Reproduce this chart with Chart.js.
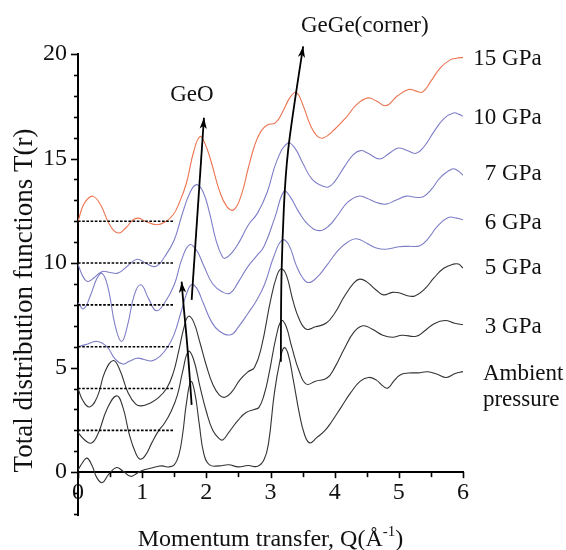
<!DOCTYPE html>
<html>
<head>
<meta charset="utf-8">
<script src="https://cdn.jsdelivr.net/npm/chart.js@4.4.0/dist/chart.umd.min.js"></script>
<style>
html,body{margin:0;padding:0;background:#fff;}
#wrap{width:566px;height:550px;position:relative;}
</style>
</head>
<body>
<div id="wrap"><canvas id="c" width="566" height="550"></canvas></div>
<script>
// ---------- data ----------
const SERIES_NAMES = ['Ambient pressure', '3 GPa', '5 GPa', '6 GPa', '7 GPa', '10 GPa', '15 GPa'];

const Q_AMB = [0,0.07,0.14,0.22,0.3,0.38,0.48,0.6,0.7,0.82,0.92,1.0,1.15,1.3,1.42,1.5,1.57,1.63,1.69,1.76,1.82,1.89,1.96,2.05,2.2,2.35,2.5,2.65,2.8,2.9,2.97,3.06,3.15,3.21,3.27,3.35,3.45,3.53,3.61,3.72,3.85,3.95,4.1,4.25,4.4,4.53,4.65,4.76,4.83,4.92,5.02,5.15,5.3,5.45,5.6,5.74,5.88,6.0];
const T_AMB = [0.1,0.45,0.67,0.3,-0.3,-0.5,-0.1,0.22,0.05,-0.2,-0.05,0.08,0.2,0.3,0.25,0.35,0.8,1.8,3.3,4.33,3.8,2.3,0.9,0.35,0.3,0.35,0.25,0.32,0.28,0.6,1.4,3.78,5.37,5.95,5.7,4.5,2.8,1.8,1.4,1.65,2.0,2.4,3.1,3.8,4.35,4.53,4.4,4.1,4.02,4.35,4.65,4.74,4.75,4.8,4.68,4.53,4.72,4.81];

const Q_3 = [0,0.1,0.21,0.32,0.45,0.6,0.7,0.8,0.9,0.97,1.05,1.15,1.25,1.35,1.45,1.55,1.63,1.72,1.8,1.9,2.0,2.1,2.2,2.26,2.35,2.5,2.62,2.75,2.82,2.9,2.97,3.09,3.17,3.24,3.33,3.45,3.56,3.7,3.88,4.0,4.15,4.3,4.44,4.58,4.75,4.9,5.05,5.27,5.4,5.55,5.72,5.87,6.0];
const T_3 = [1.9,1.55,1.39,1.9,3.0,3.65,3.1,1.8,0.9,0.62,0.8,1.4,1.95,2.35,2.9,3.7,4.8,5.77,5.4,4.1,2.9,2.0,1.6,1.55,1.9,2.5,2.85,3.0,3.1,3.7,4.6,6.5,7.24,7.0,6.0,4.8,4.21,4.35,4.5,5.0,5.9,6.7,7.0,6.85,6.55,6.45,6.55,6.5,6.75,7.1,7.25,7.12,7.05];

const Q_5 = [0,0.08,0.18,0.3,0.42,0.55,0.65,0.78,0.9,0.99,1.12,1.25,1.38,1.48,1.57,1.65,1.72,1.8,1.9,2.0,2.1,2.2,2.29,2.4,2.52,2.65,2.75,2.86,3.0,3.1,3.17,3.25,3.35,3.45,3.56,3.7,3.87,4.0,4.15,4.3,4.39,4.5,4.65,4.76,4.9,5.0,5.12,5.25,5.4,5.55,5.7,5.85,5.93,6.0];
const T_5 = [4.0,3.4,3.12,3.6,4.8,5.34,4.9,3.8,3.25,3.17,3.3,3.55,4.0,4.7,5.8,6.9,7.45,7.2,6.2,5.1,4.2,3.7,3.58,3.85,4.4,4.8,5.0,6.0,8.2,9.4,9.73,9.4,8.2,7.3,6.84,6.95,7.13,7.6,8.4,9.05,9.23,9.1,8.7,8.48,8.6,8.58,8.45,8.43,8.75,9.3,9.75,9.95,9.95,9.76];

const Q_6 = [0,0.12,0.3,0.45,0.58,0.7,0.8,0.92,1.02,1.15,1.28,1.4,1.5,1.6,1.7,1.77,1.85,1.95,2.08,2.2,2.38,2.5,2.65,2.78,2.91,3.05,3.18,3.28,3.4,3.5,3.59,3.72,3.88,4.05,4.2,4.34,4.5,4.65,4.8,5.0,5.15,5.33,5.45,5.6,5.77,5.9,6.0];
const T_6 = [6.0,6.1,6.25,6.0,5.4,5.17,5.3,5.45,5.4,5.32,5.55,6.0,6.6,7.6,8.6,8.96,8.8,8.1,7.2,6.75,6.57,6.95,7.6,8.2,9.0,10.3,11.1,10.9,9.9,9.3,9.07,9.3,9.9,10.6,11.0,11.16,10.95,10.72,10.66,10.78,10.8,10.83,11.15,11.75,12.18,12.15,12.07];

const Q_7 = [0,0.09,0.2,0.3,0.38,0.47,0.58,0.68,0.77,0.88,0.98,1.1,1.22,1.35,1.5,1.62,1.74,1.85,1.97,2.1,2.25,2.37,2.5,2.65,2.8,2.9,3.07,3.21,3.3,3.45,3.6,3.76,3.9,4.05,4.2,4.37,4.5,4.65,4.8,4.95,5.12,5.25,5.38,5.5,5.65,5.83,5.92,6.0];
const T_7 = [8.1,7.82,8.5,9.3,9.5,8.8,7.0,6.25,7.0,8.5,8.96,8.3,7.72,8.1,8.96,10.2,10.88,10.6,9.8,9.0,8.62,8.56,9.1,9.84,10.4,10.8,12.2,13.43,13.2,12.4,11.8,11.55,11.75,12.3,12.9,13.2,13.1,12.9,12.82,13.0,13.2,13.15,13.17,13.5,14.1,14.5,14.42,14.2];

const Q_10 = [0,0.07,0.15,0.25,0.38,0.5,0.62,0.75,0.92,1.05,1.21,1.35,1.5,1.62,1.75,1.85,1.95,2.05,2.15,2.25,2.3,2.4,2.52,2.65,2.8,2.95,3.1,3.27,3.38,3.5,3.65,3.8,3.9,4.0,4.15,4.28,4.4,4.52,4.7,4.85,4.99,5.12,5.27,5.4,5.55,5.7,5.85,5.95,6.0];
const T_10 = [9.95,9.4,9.12,9.3,9.6,9.55,9.52,9.8,10.18,10.0,9.84,10.3,11.1,12.3,13.4,13.75,13.4,12.4,11.1,10.3,10.24,10.5,11.05,11.8,12.4,13.4,14.9,15.74,15.5,14.8,14.0,13.7,13.64,13.9,14.6,15.15,15.38,15.25,14.98,15.25,15.5,15.4,15.25,15.6,16.3,16.9,17.18,17.1,17.02];

const Q_15 = [0,0.08,0.16,0.24,0.35,0.5,0.63,0.75,0.85,0.94,1.05,1.22,1.35,1.48,1.58,1.69,1.8,1.9,1.98,2.08,2.2,2.32,2.43,2.55,2.65,2.75,2.85,2.95,3.08,3.2,3.3,3.4,3.5,3.62,3.72,3.82,4.0,4.19,4.35,4.52,4.65,4.8,4.98,5.15,5.25,5.37,5.5,5.65,5.8,5.9,6.0];
const T_15 = [12.0,12.75,13.1,13.19,12.8,11.8,11.44,11.7,12.05,12.15,12.0,11.83,11.95,12.3,12.9,13.83,15.3,16.05,15.7,14.8,13.5,12.7,12.55,13.3,14.5,15.6,16.3,16.6,16.72,17.3,17.9,18.16,17.6,16.6,16.1,15.98,16.4,17.01,17.6,17.9,17.75,17.53,18.0,18.3,18.25,18.18,18.7,19.35,19.72,19.8,19.84];

// dotted baseline offsets and their Q extent
const BASELINES = [2, 4, 6, 8, 10, 12];
const BASELINE_Q = [0, 1.5];

// axis ticks
const X_TICKS = [0, 1, 2, 3, 4, 5, 6];
const X_MINOR = [0.5, 1.5, 2.5, 3.5, 4.5, 5.5];
const Y_TICKS = [0, 5, 10, 15, 20];
const Y_MINOR = [-2, -1, 1, 2, 3, 4, 6, 7, 8, 9, 11, 12, 13, 14, 16, 17, 18, 19];

// annotation arrows (data units: Q, T)
const ARROW_GEO_LOW = [[1.771, 3.22], [1.745, 4.42], [1.693, 6.47], [1.640, 8.10], [1.615, 9.11]];
const ARROW_GEO_HIGH = [[1.771, 8.24], [1.963, 16.95]];
const ARROW_GEGE = [[3.162, 5.28], [3.162, 8.24], [3.185, 11.1], [3.232, 14.2], [3.318, 16.6], [3.509, 20.36]];

// text annotations (data units)
const LABELS_RIGHT = [
  ['15 GPa', 19.49], ['10 GPa', 16.67], ['7 GPa', 13.96],
  ['6 GPa', 11.62], ['5 GPa', 9.49], ['3 GPa', 6.67]
];
const LABEL_RIGHT_Q = 7.227;
const LABELS_LEFT = [['Ambient', 4.42], ['pressure', 3.17]];
const LABEL_LEFT_Q = 6.31;
const PEAK_LABELS = [['GeO', 1.776, 17.73], ['GeGe(corner)', 4.47, 21.07]];

// ---------- build ----------
const COLORS = ['#333333', '#333333', '#333333', '#7e7ec8', '#7e7ec8', '#7e7ec8', '#ec7451'];
const QS = [Q_AMB, Q_3, Q_5, Q_6, Q_7, Q_10, Q_15];
const TS = [T_AMB, T_3, T_5, T_6, T_7, T_10, T_15];

function zip(qs, ts) {
  const n = Math.min(qs.length, ts.length);
  const out = [];
  for (let i = 0; i < n; i++) out.push({x: qs[i], y: ts[i]});
  return out;
}

const datasets = [];
BASELINES.forEach(b => {
  datasets.push({
    label: 'baseline ' + b,
    data: BASELINE_Q.map(q => ({x: q, y: b})),
    borderColor: '#000', borderWidth: 1.6, borderDash: [2.6, 1.6],
    pointRadius: 0, tension: 0
  });
});
SERIES_NAMES.forEach((name, i) => {
  datasets.push({
    label: name,
    data: zip(QS[i], TS[i]),
    borderColor: COLORS[i], borderWidth: 1.1,
    pointRadius: 0, tension: 0.45
  });
});

const SERIF = '"Liberation Serif", "Times New Roman", serif';

function drawArrow(ctx, xs, ys, pts) {
  const p = pts.map(([q, t]) => [xs.getPixelForValue(q), ys.getPixelForValue(t)]);
  ctx.beginPath();
  ctx.moveTo(p[0][0], p[0][1]);
  if (p.length > 2) {
    for (let i = 1; i < p.length - 1; i++) {
      const mx = (p[i][0] + p[i + 1][0]) / 2, my = (p[i][1] + p[i + 1][1]) / 2;
      if (i === p.length - 2) ctx.quadraticCurveTo(p[i][0], p[i][1], p[i + 1][0], p[i + 1][1]);
      else ctx.quadraticCurveTo(p[i][0], p[i][1], mx, my);
    }
  } else {
    ctx.lineTo(p[1][0], p[1][1]);
  }
  ctx.stroke();
  const tip = p[p.length - 1], prev = p[p.length - 2];
  const ang = Math.atan2(tip[1] - prev[1], tip[0] - prev[0]);
  const L = 11, W = 3.6;
  ctx.beginPath();
  ctx.moveTo(tip[0], tip[1]);
  ctx.lineTo(tip[0] - L * Math.cos(ang) + W * Math.sin(ang), tip[1] - L * Math.sin(ang) - W * Math.cos(ang));
  ctx.lineTo(tip[0] - L * 0.75 * Math.cos(ang), tip[1] - L * 0.75 * Math.sin(ang));
  ctx.lineTo(tip[0] - L * Math.cos(ang) - W * Math.sin(ang), tip[1] - L * Math.sin(ang) + W * Math.cos(ang));
  ctx.closePath();
  ctx.fill();
}

const decor = {
  id: 'decor',
  afterDraw(chart) {
    const {ctx} = chart;
    const xs = chart.scales.x, ys = chart.scales.y;
    const x0 = xs.left, y0 = ys.getPixelForValue(0);
    ctx.save();
    ctx.strokeStyle = '#000';
    ctx.fillStyle = '#000';
    // y ticks (outward, left)
    ctx.lineWidth = 1.6;
    Y_TICKS.concat(Y_MINOR).forEach(v => {
      const py = Math.round(ys.getPixelForValue(v)) + 0.5;
      const len = Y_TICKS.includes(v) ? 7 : 4;
      ctx.beginPath(); ctx.moveTo(x0 - len, py); ctx.lineTo(x0, py); ctx.stroke();
    });
    // x ticks (outward, down)
    X_TICKS.concat(X_MINOR).forEach(v => {
      const px = Math.round(xs.getPixelForValue(v)) + 0.5;
      const len = X_TICKS.includes(v) ? 6 : 5;
      ctx.beginPath(); ctx.moveTo(px, y0); ctx.lineTo(px, y0 + len); ctx.stroke();
    });
    // arrows
    ctx.lineWidth = 1.8;
    drawArrow(ctx, xs, ys, ARROW_GEO_LOW);
    drawArrow(ctx, xs, ys, ARROW_GEO_HIGH);
    drawArrow(ctx, xs, ys, ARROW_GEGE);
    // labels
    ctx.fillStyle = '#111';
    ctx.font = '23px ' + SERIF;
    ctx.textBaseline = 'alphabetic';
    ctx.textAlign = 'right';
    LABELS_RIGHT.forEach(([t, v]) => ctx.fillText(t, xs.getPixelForValue(LABEL_RIGHT_Q), ys.getPixelForValue(v)));
    ctx.textAlign = 'left';
    LABELS_LEFT.forEach(([t, v]) => ctx.fillText(t, xs.getPixelForValue(LABEL_LEFT_Q), ys.getPixelForValue(v)));
    ctx.textAlign = 'center';
    PEAK_LABELS.forEach(([t, q, v]) => ctx.fillText(t, xs.getPixelForValue(q), ys.getPixelForValue(v)));
    // y title
    ctx.save();
    ctx.font = '27px ' + SERIF;
    ctx.translate(32, (ys.top + ys.getPixelForValue(-2.05)) / 2 + 16);
    ctx.rotate(-Math.PI / 2);
    ctx.textAlign = 'center';
    ctx.fillText('Total distribution functions T(r)', 0, 0);
    ctx.restore();
    // x title with superscript
    const main = 'Momentum transfer, Q(\u00C5';
    const sup = '-1';
    const tail = ')';
    ctx.font = '24px ' + SERIF;
    const w1 = ctx.measureText(main).width;
    const w3 = ctx.measureText(tail).width;
    ctx.font = '15px ' + SERIF;
    const w2 = ctx.measureText(sup).width;
    const total = w1 + w2 + w3;
    const sx = (xs.left + xs.right) / 2 - total / 2;
    const by = 546;
    ctx.textAlign = 'left';
    ctx.font = '24px ' + SERIF;
    ctx.fillText(main, sx, by);
    ctx.font = '15px ' + SERIF;
    ctx.fillText(sup, sx + w1, by - 10);
    ctx.font = '24px ' + SERIF;
    ctx.fillText(tail, sx + w1 + w2, by);
    ctx.restore();
  }
};

new Chart(document.getElementById('c').getContext('2d'), {
  type: 'line',
  data: {datasets},
  options: {
    responsive: false,
    animation: false,
    devicePixelRatio: 1,
    layout: {padding: {left: 0, right: 103, top: 54, bottom: 35}},
    plugins: {legend: {display: false}, tooltip: {enabled: false}},
    elements: {point: {radius: 0}},
    scales: {
      x: {
        type: 'linear', min: 0, max: 6,
        position: {y: 0},
        afterFit: s => { s.height = 0; },
        grid: {display: true, drawOnChartArea: false, drawTicks: false},
        border: {display: true, color: '#000', width: 2},
        ticks: {stepSize: 1, padding: 6, maxRotation: 0, color: '#111', font: {family: SERIF, size: 24}}
      },
      y: {
        type: 'linear', min: -2.05, max: 20,
        position: 'left',
        afterFit: s => { s.width = 78; },
        grid: {display: true, drawOnChartArea: false, drawTicks: false},
        border: {display: true, color: '#000', width: 2},
        ticks: {stepSize: 5, includeBounds: false, padding: 11, color: '#111', font: {family: SERIF, size: 24}}
      }
    }
  },
  plugins: [decor]
});
</script>
</body>
</html>
